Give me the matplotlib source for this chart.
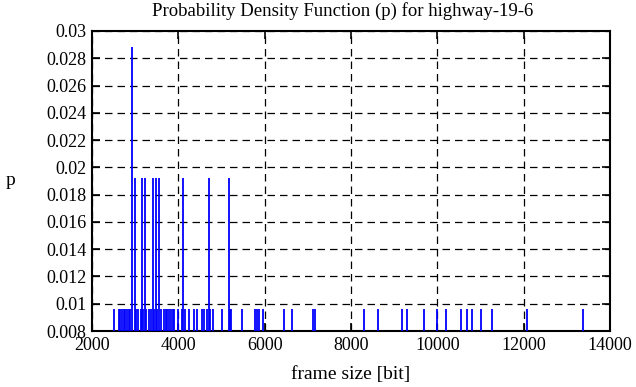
import matplotlib
matplotlib.use('Agg')
import matplotlib.pyplot as plt
from matplotlib.ticker import FuncFormatter, MultipleLocator

plt.rcParams.update({
    'font.family': ['Liberation Serif', 'DejaVu Serif'],
    'font.size': 13,
})

# frame sizes [bit] and their probabilities
sizes_1 = [2507, 2616, 2656, 2695, 2734, 2774, 2813, 2853, 2885, 3024, 3056,
           3124, 3186, 3251, 3318, 3355, 3436, 3506, 3594, 3668, 3707, 3747,
           3786, 3825, 3865, 3904, 3995, 4073, 4143, 4249, 4365, 4428, 4544,
           4597, 4671, 4734, 4792, 5007, 5185, 5220, 5470, 5776, 5815, 5857,
           5966, 6450, 6626, 7115, 7166, 8301, 8619, 9177, 9290, 9689, 9985,
           10196, 10544, 10676, 10796, 11007, 11262, 12073, 13370]
sizes_2 = [2984, 3147, 3216, 3402, 3471, 3548, 4108, 4703, 5162]
sizes_3 = [2920]
p_1 = 0.0096
p_2 = 0.0192
p_3 = 0.0288

frame_size = sizes_1 + sizes_2 + sizes_3
p = [p_1] * len(sizes_1) + [p_2] * len(sizes_2) + [p_3] * len(sizes_3)

fig = plt.figure(figsize=(6.36, 3.87), dpi=100)
ax = fig.add_axes([0.1447, 0.1447, 0.8145, 0.7752])

ax.vlines(frame_size, 0.008, p, color='#0000ff', linewidth=1.3, zorder=3)

ax.set_xlim(2000, 14000)
ax.set_ylim(0.008, 0.03)
ax.xaxis.set_major_locator(MultipleLocator(2000))
ax.yaxis.set_major_locator(MultipleLocator(0.002))
ax.yaxis.set_major_formatter(FuncFormatter(lambda v, pos: '%g' % round(v, 4)))

ax.grid(True, color='black', linestyle=(0, (6, 4)), linewidth=0.9, zorder=1)
ax.tick_params(direction='in', length=6, width=1.2, top=True, right=True)
ax.tick_params(axis='x', pad=4.5)
ax.tick_params(axis='y', pad=4)
for s in ax.spines.values():
    s.set_linewidth(1.5)

fig.text(0.538, 0.972, 'Probability Density Function (p) for highway-19-6',
         ha='center', va='center', fontsize=13.5)
fig.text(0.551, 0.032, 'frame size [bit]', ha='center', va='center', fontsize=14)
ax.set_ylabel('p', rotation=0, va='center', ha='center', fontsize=14)
ax.yaxis.set_label_coords(-0.158, 0.5)

fig.savefig('out.png', dpi=100)
